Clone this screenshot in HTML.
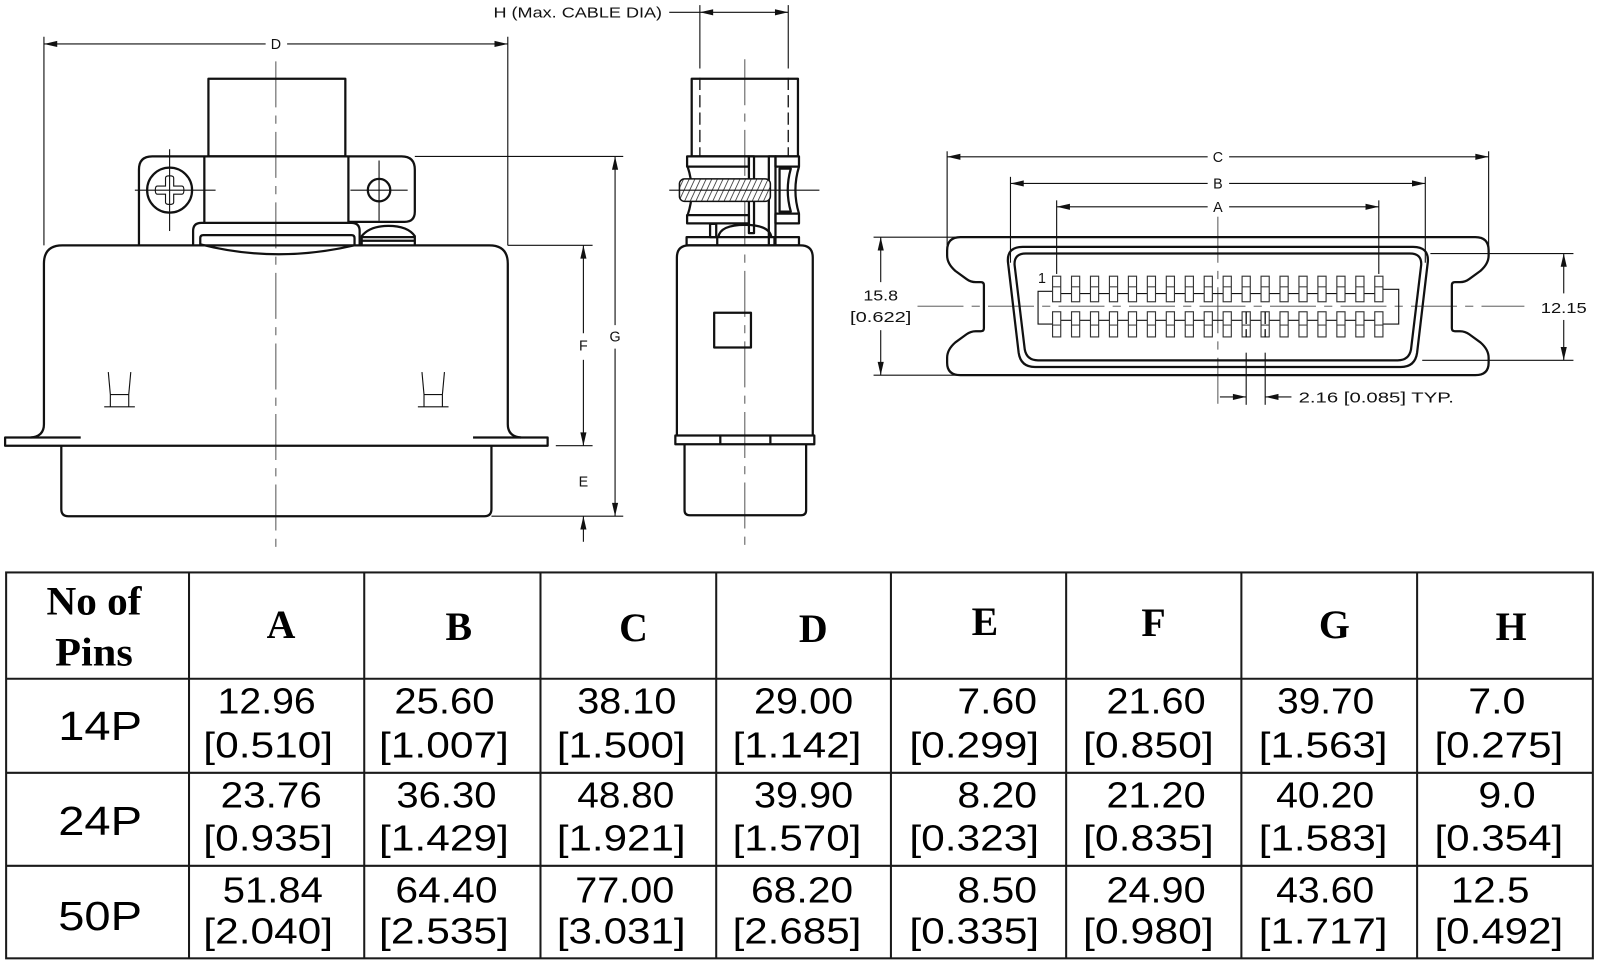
<!DOCTYPE html>
<html>
<head>
<meta charset="utf-8">
<style>
  html,body{margin:0;padding:0;background:#fff;}
  svg{display:block;}
  .ob{stroke:#111;stroke-width:2.2;fill:none;stroke-linejoin:round;}
  .th{stroke:#111;stroke-width:1.1;fill:none;}
  .cl{stroke:#444;stroke-width:0.9;fill:none;stroke-dasharray:45 8 8 8;}
  .hid{stroke:#111;stroke-width:1.3;fill:none;stroke-dasharray:12 5;}
  .lbl{font-family:"Liberation Sans",sans-serif;font-size:14px;fill:#111;}
  .hd{font-family:"Liberation Serif",serif;font-weight:bold;font-size:39px;fill:#000;}
  .dt{font-family:"Liberation Sans",sans-serif;font-size:35px;fill:#000;}
  .pn{font-family:"Liberation Sans",sans-serif;font-size:40px;fill:#000;}
  .ah{fill:#111;stroke:none;}
</style>
</head>
<body>
<svg width="1600" height="966" viewBox="0 0 1566 945" preserveAspectRatio="none" xmlns="http://www.w3.org/2000/svg">
<defs>
  <pattern id="hatch" patternUnits="userSpaceOnUse" width="5" height="5" patternTransform="rotate(25)">
    <rect width="5" height="5" fill="#fff"/>
    <line x1="0" y1="0" x2="0" y2="5" stroke="#333" stroke-width="1.6"/>
  </pattern>
  <g id="pt"><rect x="0" y="0" width="8" height="25" fill="#fff" stroke="#333" stroke-width="1.1"/><line x1="0" y1="10.4" x2="8" y2="10.4" stroke="#333" stroke-width="1"/></g>
  <g id="pb"><rect x="0" y="0" width="8" height="24.6" fill="#fff" stroke="#333" stroke-width="1.1"/><line x1="0" y1="13" x2="8" y2="13" stroke="#333" stroke-width="1"/></g>
</defs>

<!-- ================= LEFT VIEW ================= -->
<!-- D dimension -->
<line class="th" x1="43" y1="36" x2="43" y2="240"/>
<line class="th" x1="497" y1="36" x2="497" y2="240"/>
<line class="th" x1="43" y1="43" x2="260" y2="43"/>
<line class="th" x1="281" y1="43" x2="497" y2="43"/>
<polygon class="ah" points="43,43 56,40 56,46"/>
<polygon class="ah" points="497,43 484,40 484,46"/>
<text class="lbl" x="270" y="48" text-anchor="middle">D</text>

<!-- center line -->
<line class="cl" x1="270" y1="60" x2="270" y2="537"/>

<!-- cable -->
<rect class="ob" x="204" y="77" width="134" height="76"/>
<!-- bracket -->
<path class="ob" d="M136,240 V166 Q136,153 149,153 H393 Q406,153 406,166 V207 Q406,217 396,217 H341"/>
<line class="ob" x1="200" y1="153" x2="200" y2="218"/>
<line class="ob" x1="341" y1="153" x2="341" y2="218"/>
<!-- latch -->
<path class="ob" d="M189,240 V226 Q189,218 197,218 H344 Q352,218 352,226 V240"/>
<path class="ob" d="M196,240 V233 Q196,230 199,230 H344 Q347,230 347,233 V240" stroke-width="1.8"/>
<path class="ob" d="M196,239 Q270,258 347,240" stroke-width="1.8"/>
<!-- right dome -->
<path class="ob" d="M354,240 V231 Q362,221 380,221 Q399,221 406,231 V240" stroke-width="1.8"/>
<line class="ob" x1="354" y1="232" x2="406" y2="232" stroke-width="1.6"/>
<line class="ob" x1="354" y1="235.5" x2="406" y2="235.5" stroke-width="1.6"/>
<!-- screw -->
<circle class="ob" cx="166" cy="186" r="22"/>
<path class="th" stroke-width="1.5" d="M162,174 Q162,172 166,172 Q170,172 170,174 V182 H178 Q180,182 180,186 Q180,190 178,190 H170 V198 Q170,200 166,200 Q162,200 162,198 V190 H154 Q152,190 152,186 Q152,182 154,182 H162 Z"/>
<line class="th" stroke-width="0.8" x1="132" y1="186" x2="211" y2="186"/>
<line class="th" stroke-width="0.8" x1="166" y1="146" x2="166" y2="226"/>
<circle class="ob" cx="371" cy="186" r="11"/>
<line class="th" stroke-width="0.8" x1="343" y1="186" x2="399" y2="186"/>
<line class="th" stroke-width="0.8" x1="371" y1="157" x2="371" y2="216"/>
<!-- body -->
<path class="ob" d="M30,428 Q43,427 43,415 V258 Q43,240 61,240 H479 Q497,240 497,258 V415 Q497,427 510,428"/>
<!-- flange -->
<path class="ob" d="M79,428 H5 V436 H536 V428 H463"/>
<!-- lower -->
<path class="ob" d="M60,436 V498 Q60,505 67,505 H474 Q481,505 481,498 V436"/>
<!-- ejectors -->
<g class="th">
  <line x1="106" y1="364" x2="108" y2="386"/><line x1="128" y1="364" x2="126" y2="386"/>
  <line x1="108" y1="386" x2="126" y2="386"/><line x1="108" y1="386" x2="108" y2="398"/>
  <line x1="126" y1="386" x2="126" y2="398"/><line x1="102" y1="398" x2="132" y2="398"/>
  <line x1="413" y1="364" x2="415" y2="386"/><line x1="435" y1="364" x2="433" y2="386"/>
  <line x1="415" y1="386" x2="433" y2="386"/><line x1="415" y1="386" x2="415" y2="398"/>
  <line x1="433" y1="386" x2="433" y2="398"/><line x1="409" y1="398" x2="439" y2="398"/>
</g>

<!-- F/G/E dimensions -->
<line class="th" x1="406" y1="153" x2="610" y2="153"/>
<line class="th" x1="497" y1="240" x2="580" y2="240"/>
<line class="th" x1="544" y1="436" x2="580" y2="436"/>
<line class="th" x1="481" y1="505" x2="610" y2="505"/>
<line class="th" x1="571" y1="240" x2="571" y2="326"/>
<line class="th" x1="571" y1="352" x2="571" y2="436"/>
<polygon class="ah" points="571,240 568,253 574,253"/>
<polygon class="ah" points="571,436 568,423 574,423"/>
<text class="lbl" x="571" y="343" text-anchor="middle">F</text>
<line class="th" x1="602" y1="153" x2="602" y2="318"/>
<line class="th" x1="602" y1="341" x2="602" y2="505"/>
<polygon class="ah" points="602,153 599,166 605,166"/>
<polygon class="ah" points="602,505 599,492 605,492"/>
<text class="lbl" x="602" y="334" text-anchor="middle">G</text>
<text class="lbl" x="571" y="476" text-anchor="middle">E</text>
<line class="th" x1="571" y1="505" x2="571" y2="530"/>
<polygon class="ah" points="571,505 568,518 574,518"/>

<!-- ================= MIDDLE VIEW ================= -->
<text class="lbl" x="483" y="17" textLength="165" lengthAdjust="spacingAndGlyphs">H (Max. CABLE DIA)</text>
<line class="th" x1="655" y1="12" x2="771.5" y2="12"/>
<polygon class="ah" points="685,12 698,9 698,15"/>
<polygon class="ah" points="771.5,12 758.5,9 758.5,15"/>
<line class="th" x1="685" y1="5" x2="685" y2="67"/>
<line class="th" x1="771.5" y1="5" x2="771.5" y2="67"/>
<line class="hid" x1="685" y1="76" x2="685" y2="153"/>
<line class="hid" x1="771.5" y1="76" x2="771.5" y2="153"/>

<line class="cl" x1="729" y1="58" x2="729" y2="540"/>
<rect class="ob" x="677" y="77" width="104" height="76"/>
<!-- clamp -->
<rect class="ob" x="672.5" y="153" width="60.5" height="10" stroke-width="1.8"/>
<rect class="ob" x="672.5" y="210.5" width="60.5" height="8" stroke-width="1.8"/>
<path class="ob" d="M673,163 Q681,187 673,210.5" stroke-width="1.8"/>
<rect class="ob" x="733" y="153" width="5" height="75" stroke-width="1.8"/>
<path class="ob" d="M752.5,240 V153 H759 V240" stroke-width="1.8"/>
<rect class="ob" x="759" y="153" width="23" height="10" stroke-width="1.8"/>
<rect class="ob" x="759" y="209" width="23" height="9.5" stroke-width="1.8"/>
<path class="ob" d="M782,163 Q775,186 782,209" stroke-width="1.8"/>
<path class="ob" d="M763,165 H774 Q768,186 774,207 H763 Z" stroke-width="1.4"/>
<!-- screw -->
<rect x="665" y="175" width="89" height="22" rx="5" fill="url(#hatch)" stroke="#111" stroke-width="1.5"/>
<line class="th" stroke-width="0.8" x1="655" y1="186" x2="802" y2="186"/>
<!-- dome & stem -->
<path class="ob" d="M703,232 Q705,220 729,220 Q753,220 755,232" stroke-width="1.8"/>
<rect class="ob" x="695" y="219" width="6" height="13" stroke-width="1.5"/>
<!-- strip -->
<rect class="ob" x="672" y="232" width="110" height="8" stroke-width="1.8"/>
<line class="ob" x1="702" y1="232" x2="702" y2="240" stroke-width="1.6"/>
<line class="ob" x1="758" y1="232" x2="758" y2="240" stroke-width="1.6"/>
<!-- body -->
<path class="ob" d="M662.5,426 V252 Q662.5,240 674.5,240 H783.5 Q795.5,240 795.5,252 V426"/>
<rect class="ob" x="699" y="306" width="36" height="34"/>
<rect class="ob" x="661" y="426" width="136" height="8.6"/>
<line class="ob" x1="705" y1="426" x2="705" y2="434.6" stroke-width="1.6"/>
<line class="ob" x1="754" y1="426" x2="754" y2="434.6" stroke-width="1.6"/>
<path class="ob" d="M670,434.6 V499 Q670,504 675,504 H784 Q789,504 789,499 V434.6"/>

<!-- ================= RIGHT VIEW ================= -->
<!-- C B A dims -->
<line class="th" x1="927" y1="148" x2="927" y2="240"/>
<line class="th" x1="1457" y1="148" x2="1457" y2="245"/>
<line class="th" x1="927" y1="153.4" x2="1182" y2="153.4"/>
<line class="th" x1="1203" y1="153.4" x2="1457" y2="153.4"/>
<polygon class="ah" points="927,153.4 940,150.4 940,156.4"/>
<polygon class="ah" points="1457,153.4 1444,150.4 1444,156.4"/>
<text class="lbl" x="1192" y="158.5" text-anchor="middle">C</text>

<line class="th" x1="989" y1="173" x2="989" y2="257"/>
<line class="th" x1="1395" y1="173" x2="1395" y2="257"/>
<line class="th" x1="989" y1="179.5" x2="1182" y2="179.5"/>
<line class="th" x1="1203" y1="179.5" x2="1395" y2="179.5"/>
<polygon class="ah" points="989,179.5 1002,176.5 1002,182.5"/>
<polygon class="ah" points="1395,179.5 1382,176.5 1382,182.5"/>
<text class="lbl" x="1192" y="184.5" text-anchor="middle">B</text>

<line class="th" x1="1034.2" y1="196" x2="1034.2" y2="268"/>
<line class="th" x1="1349.5" y1="196" x2="1349.5" y2="268"/>
<line class="th" x1="1034.2" y1="202.3" x2="1182" y2="202.3"/>
<line class="th" x1="1203" y1="202.3" x2="1349.5" y2="202.3"/>
<polygon class="ah" points="1034.2,202.3 1047.2,199.3 1047.2,205.3"/>
<polygon class="ah" points="1349.5,202.3 1336.5,199.3 1336.5,205.3"/>
<text class="lbl" x="1192" y="207.3" text-anchor="middle">A</text>

<!-- 15.8 dim -->
<line class="th" x1="855" y1="232" x2="938" y2="232"/>
<line class="th" x1="855" y1="367" x2="938" y2="367"/>
<line class="th" x1="862" y1="232" x2="862" y2="276"/>
<line class="th" x1="862" y1="323" x2="862" y2="367"/>
<polygon class="ah" points="862,232 859,245 865,245"/>
<polygon class="ah" points="862,367 859,354 865,354"/>
<text class="lbl" x="845" y="294" font-size="17" textLength="34" lengthAdjust="spacingAndGlyphs">15.8</text>
<text class="lbl" x="832" y="315" font-size="17" textLength="60" lengthAdjust="spacingAndGlyphs">[0.622]</text>

<!-- center lines -->
<line class="cl" x1="1192" y1="212" x2="1192" y2="396"/>
<line class="cl" x1="898" y1="299.5" x2="1492" y2="299.5"/>

<!-- outer shell -->
<path class="ob" d="M940,232 H1444 Q1457,232 1457,245 V250 Q1457,258 1449,265 L1438,273 Q1434,276 1429,276 H1424 Q1421,276 1421,279 V321 Q1421,324 1424,324 H1429 Q1434,324 1438,327 L1449,335 Q1457,342 1457,350 V355 Q1457,367 1444,367 H940 Q927,367 927,355 V350 Q927,342 935,335 L946,327 Q950,324 955,324 H960 Q963,324 963,321 V279 Q963,276 960,276 H955 Q950,276 946,273 L935,265 Q927,258 927,250 V245 Q927,232 940,232 Z"/>
<!-- D shell -->
<path class="ob" d="M1001,241.5 H1383 Q1398.5,241.5 1397.5,256 L1387,345 Q1385,359 1371,359 H1013 Q999,359 997,345 L986.5,256 Q985.5,241.5 1001,241.5 Z"/>
<path class="ob" d="M1004,248 H1380 Q1391.5,248 1391,259 L1381,342 Q1379,352.5 1368,352.5 H1016 Q1005,352.5 1003,342 L993,259 Q992.5,248 1004,248 Z"/>

<!-- wires & brackets -->
<line class="th" x1="1030" y1="287.2" x2="1354" y2="287.2" stroke="#333"/>
<line class="th" x1="1030" y1="313.3" x2="1354" y2="313.3" stroke="#333"/>
<path class="th" stroke="#333" d="M1030,285 H1016 V317 H1030"/>
<path class="th" stroke="#333" d="M1354,283 H1369 V317 H1354"/>

<!-- pins top row -->
<use href="#pt" x="1030.2" y="270.2"/><use href="#pt" x="1048.75" y="270.2"/><use href="#pt" x="1067.3" y="270.2"/>
<use href="#pt" x="1085.85" y="270.2"/><use href="#pt" x="1104.4" y="270.2"/><use href="#pt" x="1122.95" y="270.2"/>
<use href="#pt" x="1141.5" y="270.2"/><use href="#pt" x="1160.05" y="270.2"/><use href="#pt" x="1178.6" y="270.2"/>
<use href="#pt" x="1197.15" y="270.2"/><use href="#pt" x="1215.7" y="270.2"/><use href="#pt" x="1234.25" y="270.2"/>
<use href="#pt" x="1252.8" y="270.2"/><use href="#pt" x="1271.35" y="270.2"/><use href="#pt" x="1289.9" y="270.2"/>
<use href="#pt" x="1308.45" y="270.2"/><use href="#pt" x="1327" y="270.2"/><use href="#pt" x="1345.55" y="270.2"/>
<!-- pins bottom row -->
<use href="#pb" x="1030.2" y="305"/><use href="#pb" x="1048.75" y="305"/><use href="#pb" x="1067.3" y="305"/>
<use href="#pb" x="1085.85" y="305"/><use href="#pb" x="1104.4" y="305"/><use href="#pb" x="1122.95" y="305"/>
<use href="#pb" x="1141.5" y="305"/><use href="#pb" x="1160.05" y="305"/><use href="#pb" x="1178.6" y="305"/>
<use href="#pb" x="1197.15" y="305"/><use href="#pb" x="1215.7" y="305"/><use href="#pb" x="1234.25" y="305"/>
<use href="#pb" x="1252.8" y="305"/><use href="#pb" x="1271.35" y="305"/><use href="#pb" x="1289.9" y="305"/>
<use href="#pb" x="1308.45" y="305"/><use href="#pb" x="1327" y="305"/><use href="#pb" x="1345.55" y="305"/>

<text class="lbl" x="1016" y="277" font-size="15">1</text>

<!-- 12.15 dim -->
<line class="th" x1="1400" y1="248" x2="1540" y2="248"/>
<line class="th" x1="1392" y1="352.5" x2="1540" y2="352.5"/>
<line class="th" x1="1530.5" y1="248" x2="1530.5" y2="287"/>
<line class="th" x1="1530.5" y1="313" x2="1530.5" y2="352.5"/>
<polygon class="ah" points="1530.5,248 1527.5,261 1533.5,261"/>
<polygon class="ah" points="1530.5,352.5 1527.5,339.5 1533.5,339.5"/>
<text class="lbl" x="1508" y="306" font-size="17" textLength="45" lengthAdjust="spacingAndGlyphs">12.15</text>

<!-- pitch dim -->
<line class="hid" stroke-width="0.9" stroke-dasharray="4 3" x1="1219.7" y1="305" x2="1219.7" y2="330"/>
<line class="hid" stroke-width="0.9" stroke-dasharray="4 3" x1="1238.3" y1="305" x2="1238.3" y2="330"/>
<line class="th" x1="1219.7" y1="345" x2="1219.7" y2="396"/>
<line class="th" x1="1238.3" y1="345" x2="1238.3" y2="396"/>
<line class="th" x1="1194" y1="388.3" x2="1219.7" y2="388.3"/>
<line class="th" x1="1238.3" y1="388.3" x2="1264" y2="388.3"/>
<polygon class="ah" points="1219.7,388.3 1206.7,385.3 1206.7,391.3"/>
<polygon class="ah" points="1238.3,388.3 1251.3,385.3 1251.3,391.3"/>
<text class="lbl" x="1271" y="394" font-size="16" textLength="152" lengthAdjust="spacingAndGlyphs">2.16 [0.085] TYP.</text>

<!-- ================= TABLE ================= -->
<g stroke="#1a1a1a" stroke-width="2" fill="none">
  <rect x="6" y="560" width="1553" height="377.5"/>
  <line x1="6" y1="664" x2="1559" y2="664"/>
  <line x1="6" y1="756" x2="1559" y2="756"/>
  <line x1="6" y1="847" x2="1559" y2="847"/>
  <line x1="185" y1="560" x2="185" y2="937.5"/>
  <line x1="356.5" y1="560" x2="356.5" y2="937.5"/>
  <line x1="529" y1="560" x2="529" y2="937.5"/>
  <line x1="701" y1="560" x2="701" y2="937.5"/>
  <line x1="872" y1="560" x2="872" y2="937.5"/>
  <line x1="1043.5" y1="560" x2="1043.5" y2="937.5"/>
  <line x1="1215" y1="560" x2="1215" y2="937.5"/>
  <line x1="1387" y1="560" x2="1387" y2="937.5"/>
</g>

<!-- header -->
<text class="hd" x="45.5" y="601" textLength="93" lengthAdjust="spacingAndGlyphs">No of</text>
<text class="hd" x="54" y="651" textLength="76" lengthAdjust="spacingAndGlyphs">Pins</text>
<text class="hd" x="275" y="624" text-anchor="middle">A</text>
<text class="hd" x="449" y="626" text-anchor="middle">B</text>
<text class="hd" x="620" y="627" text-anchor="middle">C</text>
<text class="hd" x="796" y="628" text-anchor="middle">D</text>
<text class="hd" x="964" y="621" text-anchor="middle">E</text>
<text class="hd" x="1129" y="622" text-anchor="middle">F</text>
<text class="hd" x="1306" y="624" text-anchor="middle">G</text>
<text class="hd" x="1479" y="626" text-anchor="middle">H</text>

<!-- pins col -->
<text class="pn" x="57" y="724" textLength="82" lengthAdjust="spacingAndGlyphs">14P</text>
<text class="pn" x="57" y="817" textLength="82" lengthAdjust="spacingAndGlyphs">24P</text>
<text class="pn" x="57" y="910" textLength="82" lengthAdjust="spacingAndGlyphs">50P</text>

<!-- row 1 -->
<g class="dt">
<text x="213" y="698" textLength="96" lengthAdjust="spacingAndGlyphs">12.96</text>
<text x="199" y="741" textLength="127" lengthAdjust="spacingAndGlyphs">[0.510]</text>
<text x="386" y="698" textLength="98" lengthAdjust="spacingAndGlyphs">25.60</text>
<text x="371" y="741" textLength="127" lengthAdjust="spacingAndGlyphs">[1.007]</text>
<text x="565" y="698" textLength="97" lengthAdjust="spacingAndGlyphs">38.10</text>
<text x="545" y="741" textLength="126" lengthAdjust="spacingAndGlyphs">[1.500]</text>
<text x="738" y="698" textLength="97" lengthAdjust="spacingAndGlyphs">29.00</text>
<text x="717" y="741" textLength="126" lengthAdjust="spacingAndGlyphs">[1.142]</text>
<text x="937" y="698" textLength="78" lengthAdjust="spacingAndGlyphs">7.60</text>
<text x="890" y="741" textLength="127" lengthAdjust="spacingAndGlyphs">[0.299]</text>
<text x="1083" y="698" textLength="97" lengthAdjust="spacingAndGlyphs">21.60</text>
<text x="1060" y="741" textLength="128" lengthAdjust="spacingAndGlyphs">[0.850]</text>
<text x="1250" y="698" textLength="95" lengthAdjust="spacingAndGlyphs">39.70</text>
<text x="1232" y="741" textLength="126" lengthAdjust="spacingAndGlyphs">[1.563]</text>
<text x="1437" y="698" textLength="56" lengthAdjust="spacingAndGlyphs">7.0</text>
<text x="1404" y="741" textLength="126" lengthAdjust="spacingAndGlyphs">[0.275]</text>
</g>

<!-- row 2 -->
<g class="dt">
<text x="216" y="790" textLength="99" lengthAdjust="spacingAndGlyphs">23.76</text>
<text x="199" y="832" textLength="127" lengthAdjust="spacingAndGlyphs">[0.935]</text>
<text x="388" y="790" textLength="98" lengthAdjust="spacingAndGlyphs">36.30</text>
<text x="371" y="832" textLength="127" lengthAdjust="spacingAndGlyphs">[1.429]</text>
<text x="565" y="790" textLength="95" lengthAdjust="spacingAndGlyphs">48.80</text>
<text x="545" y="832" textLength="126" lengthAdjust="spacingAndGlyphs">[1.921]</text>
<text x="738" y="790" textLength="97" lengthAdjust="spacingAndGlyphs">39.90</text>
<text x="717" y="832" textLength="126" lengthAdjust="spacingAndGlyphs">[1.570]</text>
<text x="937" y="790" textLength="78" lengthAdjust="spacingAndGlyphs">8.20</text>
<text x="890" y="832" textLength="127" lengthAdjust="spacingAndGlyphs">[0.323]</text>
<text x="1083" y="790" textLength="97" lengthAdjust="spacingAndGlyphs">21.20</text>
<text x="1060" y="832" textLength="128" lengthAdjust="spacingAndGlyphs">[0.835]</text>
<text x="1249" y="790" textLength="96" lengthAdjust="spacingAndGlyphs">40.20</text>
<text x="1232" y="832" textLength="126" lengthAdjust="spacingAndGlyphs">[1.583]</text>
<text x="1447" y="790" textLength="56" lengthAdjust="spacingAndGlyphs">9.0</text>
<text x="1404" y="832" textLength="126" lengthAdjust="spacingAndGlyphs">[0.354]</text>
</g>

<!-- row 3 -->
<g class="dt">
<text x="218" y="883" textLength="98" lengthAdjust="spacingAndGlyphs">51.84</text>
<text x="199" y="923" textLength="127" lengthAdjust="spacingAndGlyphs">[2.040]</text>
<text x="387" y="883" textLength="100" lengthAdjust="spacingAndGlyphs">64.40</text>
<text x="371" y="923" textLength="127" lengthAdjust="spacingAndGlyphs">[2.535]</text>
<text x="563" y="883" textLength="97" lengthAdjust="spacingAndGlyphs">77.00</text>
<text x="545" y="923" textLength="126" lengthAdjust="spacingAndGlyphs">[3.031]</text>
<text x="735" y="883" textLength="100" lengthAdjust="spacingAndGlyphs">68.20</text>
<text x="717" y="923" textLength="126" lengthAdjust="spacingAndGlyphs">[2.685]</text>
<text x="937" y="883" textLength="78" lengthAdjust="spacingAndGlyphs">8.50</text>
<text x="890" y="923" textLength="127" lengthAdjust="spacingAndGlyphs">[0.335]</text>
<text x="1083" y="883" textLength="97" lengthAdjust="spacingAndGlyphs">24.90</text>
<text x="1060" y="923" textLength="128" lengthAdjust="spacingAndGlyphs">[0.980]</text>
<text x="1249" y="883" textLength="96" lengthAdjust="spacingAndGlyphs">43.60</text>
<text x="1232" y="923" textLength="126" lengthAdjust="spacingAndGlyphs">[1.717]</text>
<text x="1420" y="883" textLength="77" lengthAdjust="spacingAndGlyphs">12.5</text>
<text x="1404" y="923" textLength="126" lengthAdjust="spacingAndGlyphs">[0.492]</text>
</g>
</svg>
</body>
</html>
